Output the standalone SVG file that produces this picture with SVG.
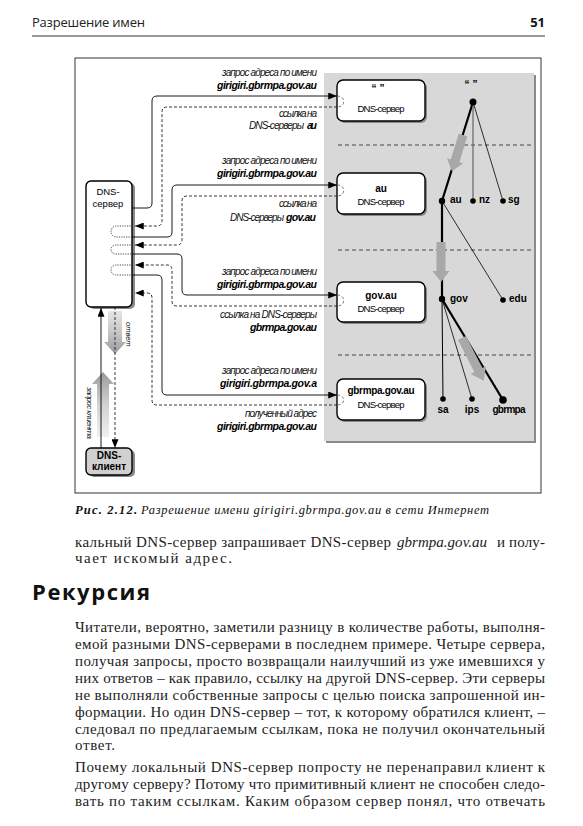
<svg xmlns="http://www.w3.org/2000/svg" width="583" height="826" viewBox="0 0 583 826">
<defs>
<style>
.lbl{font-family:"Liberation Sans",Arial,sans-serif;font-style:italic;font-size:10px;fill:#111}
.lblb{font-family:"Liberation Sans",Arial,sans-serif;font-style:italic;font-weight:bold;font-size:10.5px;fill:#000}
.box{fill:#fff;stroke:#000;stroke-width:1.4}
.shd{fill:#8a8a8a}
.bt{font-family:"Liberation Sans",Arial,sans-serif;font-size:9.5px;text-anchor:middle;fill:#000}
.btb{font-family:"Liberation Sans",Arial,sans-serif;font-size:10px;font-weight:bold;text-anchor:middle;fill:#000}
.tl{font-family:"Liberation Sans",Arial,sans-serif;font-size:10px;font-weight:bold;fill:#000}
.req{fill:none;stroke:#000;stroke-width:0.9;marker-end:url(#ah)}
.rep{fill:none;stroke:#222;stroke-width:0.9;stroke-dasharray:3 2;marker-end:url(#ah)}
.loop{fill:none;stroke:#333;stroke-width:0.9;stroke-dasharray:1.2 1.2}
.bl{fill:none;stroke:#666;stroke-width:0.9;stroke-dasharray:3 2}
.sep{stroke:#222;stroke-width:0.8;stroke-dasharray:4 3}
.thick{stroke:#000;stroke-width:2.2}
.thin{stroke:#000;stroke-width:0.8}
.garr{fill:#a8a8a8}
.body{font-family:"Liberation Serif","Times New Roman",serif;font-size:15px;fill:#222}
.cap{font-family:"Liberation Serif","Times New Roman",serif;font-size:12.5px;font-style:italic;fill:#111}
</style>
<marker id="ah" viewBox="0 0 10 8" refX="10" refY="4" markerWidth="9" markerHeight="7" markerUnits="userSpaceOnUse" orient="auto"><path d="M0,0 L10,4 L0,8 z" fill="#000"/></marker>
<linearGradient id="gUp" x1="0" y1="1" x2="0" y2="0">
<stop offset="0" stop-color="#f0f0f0"/><stop offset="0.5" stop-color="#d2d2d2"/><stop offset="1" stop-color="#999"/>
</linearGradient>
<linearGradient id="gDown" x1="0" y1="0" x2="0" y2="1">
<stop offset="0" stop-color="#e6e6e6"/><stop offset="0.5" stop-color="#c6c6c6"/><stop offset="1" stop-color="#999"/>
</linearGradient>
</defs>

<!-- page header -->
<g id="header">
<text x="32" y="27" font-family="'Open Sans',sans-serif" font-size="13" fill="#222" textLength="113">Разрешение имен</text>
<text x="545" y="27" font-family="'Open Sans',sans-serif" font-size="13" font-weight="bold" fill="#111" text-anchor="end">51</text>
<line x1="32" y1="36" x2="545" y2="36" stroke="#333" stroke-width="1"/>
</g>

<!-- figure frame -->
<rect x="75" y="58" width="466" height="435" fill="#fff" stroke="#333" stroke-width="1"/>

<!-- gray panel -->
<g id="panel">
<rect x="326" y="75" width="210" height="368" class="shd"/>
<rect x="324" y="73" width="210" height="368" fill="#d8d8d8"/>
<line x1="338" y1="145" x2="533" y2="145" class="sep"/>
<line x1="338" y1="250" x2="533" y2="250" class="sep"/>
<line x1="338" y1="355" x2="533" y2="355" class="sep"/>
</g>

<!-- tree -->
<g id="tree">
<line x1="473" y1="102" x2="442" y2="201" class="thick"/>
<line x1="473" y1="102" x2="473" y2="201" stroke="#666" stroke-width="1.2"/>
<line x1="473" y1="102" x2="503" y2="201" class="thin"/>
<line x1="442" y1="201" x2="442" y2="299" class="thick"/>
<line x1="442" y1="201" x2="503" y2="300" class="thin"/>
<line x1="442" y1="299" x2="443" y2="399" stroke="#000" stroke-width="1"/>
<line x1="442" y1="299" x2="472" y2="399" class="thin"/>
<line x1="442" y1="299" x2="503" y2="400" class="thick"/>
<polygon class="garr" transform="translate(463,135) rotate(17)" points="-4.5,0 4.5,0 4.5,27 8.5,27 0,38 -8.5,27 -4.5,27"/>
<polygon class="garr" transform="translate(441,242)" points="-4.5,0 4.5,0 4.5,29 8.5,29 0,40 -8.5,29 -4.5,29"/>
<polygon class="garr" transform="translate(462,338) rotate(-27)" points="-4.5,0 4.5,0 4.5,36 8.5,36 0,48 -8.5,36 -4.5,36"/>
<circle cx="473" cy="102" r="3.5"/>
<circle cx="442" cy="201" r="3.2"/>
<circle cx="473" cy="201" r="2.8"/>
<circle cx="503" cy="201" r="2.8"/>
<circle cx="442" cy="299" r="3.2"/>
<circle cx="503" cy="300" r="2.8"/>
<circle cx="443" cy="399" r="2.8"/>
<circle cx="472" cy="399" r="2.8"/>
<circle cx="503" cy="400" r="3.8"/>
<text x="471" y="88" class="btb" font-size="8">“ ”</text>
<text x="450" y="203" class="tl">au</text>
<text x="479" y="203" class="tl">nz</text>
<text x="508" y="203" class="tl">sg</text>
<text x="450" y="302" class="tl">gov</text>
<text x="509" y="302" class="tl">edu</text>
<text x="443" y="413" class="btb">sa</text>
<text x="472" y="413" class="btb">ips</text>
<text x="509" y="413" class="btb" textLength="33">gbrmpa</text>
</g>

<!-- remote servers -->
<g id="root-server">
<rect x="339" y="82" width="88" height="41" rx="6" class="shd"/>
<rect x="337" y="80" width="88" height="41" rx="6" class="box"/>
<text x="378" y="92" class="btb" font-size="8">“ ”</text>
<text x="381" y="112" class="bt" textLength="47">DNS-сервер</text>
</g>
<g id="au-server">
<rect x="339" y="175" width="88" height="41" rx="6" class="shd"/>
<rect x="337" y="173" width="88" height="41" rx="6" class="box"/>
<text x="381" y="192" class="btb">au</text>
<text x="381" y="205" class="bt" textLength="47">DNS-сервер</text>
</g>
<g id="gov-au-server">
<rect x="339" y="284" width="88" height="40" rx="6" class="shd"/>
<rect x="337" y="282" width="88" height="40" rx="6" class="box"/>
<text x="381" y="299" class="btb">gov.au</text>
<text x="381" y="312" class="bt" textLength="47">DNS-сервер</text>
</g>
<g id="gbrmpa-server">
<rect x="339" y="381" width="88" height="41" rx="6" class="shd"/>
<rect x="337" y="379" width="88" height="41" rx="6" class="box"/>
<text x="381" y="394" class="btb" textLength="67">gbrmpa.gov.au</text>
<text x="381" y="408" class="bt" textLength="47">DNS-сервер</text>
</g>

<!-- local server and client -->
<g id="local-server">
<rect x="89" y="183" width="46" height="126" rx="5" class="shd"/>
<rect x="86" y="181" width="46" height="126" rx="5" class="box"/>
<text x="108" y="194.5" class="bt" font-size="10">DNS-</text>
<text x="108" y="206.5" class="bt" font-size="10">сервер</text>
</g>
<g id="dns-client">
<rect x="89" y="450" width="46" height="27" rx="5" class="shd"/>
<rect x="86" y="448" width="46" height="27" rx="5" fill="#d0d0d0" stroke="#000" stroke-width="1.4"/>
<text x="109" y="458.5" class="btb" font-size="10.5">DNS-</text>
<text x="109" y="470" class="btb" font-size="8.5">клиент</text>
</g>

<!-- connectors -->
<g id="connectors">
<polygon points="97,437 109,437 109,384 114,384 103,372 92,384 97,384" fill="url(#gUp)"/>
<polygon points="108,311 122,311 122,342 126,342 115,354 104,342 108,342" fill="url(#gDown)"/>
<line x1="101" y1="448" x2="101" y2="308" class="req"/>
<line x1="115" y1="307" x2="115" y2="448" class="rep" stroke-dasharray="2 1.5"/>
<text transform="translate(126,322) rotate(90)" font-family="'Liberation Sans',Arial,sans-serif" font-size="7.5" font-style="italic" fill="#111">ответ</text>
<text transform="translate(87,387) rotate(90)" font-family="'Liberation Sans',Arial,sans-serif" font-size="8" font-style="italic" fill="#111" textLength="52">запрос клиента</text>

<path class="req" d="M132,208 H147 Q152,208 152,203 V101 Q152,96 157,96 H337"/>
<path class="req" d="M132,237 H167 Q172,237 172,232 V190 Q172,185 177,185 H337"/>
<path class="req" d="M132,254 H177 Q182,254 182,259 V290 Q182,295 187,295 H337"/>
<path class="req" d="M132,275 H157 Q162,275 162,280 V390 Q162,395 167,395 H337"/>

<path class="rep" d="M337,107 H167 Q162,107 162,112 V221 Q162,226 157,226 H135"/>
<path class="rep" d="M337,196 H187 Q182,196 182,201 V240 Q182,245 177,245 H135"/>
<path class="rep" d="M337,306 H177 Q172,306 172,301 V270 Q172,265 167,265 H135"/>
<path class="rep" d="M337,405 H157 Q152,405 152,400 V298 Q152,293 147,293 H135"/>

<path class="bl" d="M337,96 C346,96 346,107 337,107"/>
<path class="bl" d="M337,185 C346,185 346,196 337,196"/>
<path class="bl" d="M337,295 C346,295 346,306 337,306"/>
<path class="bl" d="M337,395 C346,395 346,405 337,405"/>

<path class="loop" d="M133,226 H116 A5,5.5 0 0 0 116,237 H133"/>
<path class="loop" d="M133,245 H116 A5,4.5 0 0 0 116,254 H133"/>
<path class="loop" d="M133,265 H116 A5,5 0 0 0 116,275 H133"/>
</g>

<!-- connector labels -->
<g id="labels">
<text x="317" y="76" class="lbl" text-anchor="end" textLength="95">запрос адреса по имени</text>
<text x="317" y="88.5" class="lblb" text-anchor="end" textLength="100">girigiri.gbrmpa.gov.au</text>
<text x="317" y="117" class="lbl" text-anchor="end" textLength="38">ссылка на</text>
<text x="249" y="129" class="lbl" textLength="55">DNS-серверы</text>
<text x="307" y="129" class="lblb" textLength="10">au</text>

<text x="317" y="164" class="lbl" text-anchor="end" textLength="95">запрос адреса по имени</text>
<text x="317" y="176.5" class="lblb" text-anchor="end" textLength="100">girigiri.gbrmpa.gov.au</text>
<text x="317" y="207" class="lbl" text-anchor="end" textLength="38">ссылка на</text>
<text x="230" y="220.5" class="lbl" textLength="54">DNS-серверы</text>
<text x="286" y="220.5" class="lblb" textLength="30">gov.au</text>

<text x="317" y="275" class="lbl" text-anchor="end" textLength="95">запрос адреса по имени</text>
<text x="317" y="287.5" class="lblb" text-anchor="end" textLength="100">girigiri.gbrmpa.gov.au</text>
<text x="317" y="318" class="lbl" text-anchor="end" textLength="97">ссылка на DNS-серверы</text>
<text x="317" y="331" class="lblb" text-anchor="end" textLength="67">gbrmpa.gov.au</text>

<text x="317" y="374" class="lbl" text-anchor="end" textLength="95">запрос адреса по имени</text>
<text x="317" y="387" class="lblb" text-anchor="end" textLength="97">girigiri.gbrmpa.gov.a</text>
<text x="317" y="417" class="lbl" text-anchor="end" textLength="72">полученный адрес</text>
<text x="317" y="430" class="lblb" text-anchor="end" textLength="100">girigiri.gbrmpa.gov.au</text>
</g>

<!-- caption and body text -->
<g id="text">
<text x="75" y="514" class="cap" font-weight="bold" textLength="62">Рис. 2.12.</text>
<text x="141" y="514" class="cap" textLength="348">Разрешение имени girigiri.gbrmpa.gov.au в сети Интернет</text>

<text x="75" y="547" class="body" textLength="316">кальный DNS-сервер запрашивает DNS-сервер</text>
<text x="397" y="547" class="body" font-style="italic" textLength="90">gbrmpa.gov.au</text>
<text x="497" y="547" class="body" textLength="48">и полу-</text>
<text x="75" y="563" class="body" textLength="157">чает искомый адрес.</text>

<text x="32" y="600" font-family="'Open Sans',sans-serif" font-size="22" font-weight="bold" fill="#111" textLength="118">Рекурсия</text>

<text x="75" y="632" class="body" textLength="470">Читатели, вероятно, заметили разницу в количестве работы, выполня-</text>
<text x="75" y="649" class="body" textLength="470">емой разными DNS-серверами в последнем примере. Четыре сервера,</text>
<text x="75" y="666" class="body" textLength="470">получая запросы, просто возвращали наилучший из уже имевшихся у</text>
<text x="75" y="683" class="body" textLength="470">них ответов – как правило, ссылку на другой DNS-сервер. Эти серверы</text>
<text x="75" y="700" class="body" textLength="470">не выполняли собственные запросы с целью поиска запрошенной ин-</text>
<text x="75" y="717" class="body" textLength="470">формации. Но один DNS-сервер – тот, к которому обратился клиент, –</text>
<text x="75" y="734" class="body" textLength="470">следовал по предлагаемым ссылкам, пока не получил окончательный</text>
<text x="75" y="750" class="body" textLength="40">ответ.</text>

<text x="75" y="772" class="body" textLength="470">Почему локальный DNS-сервер попросту не перенаправил клиент к</text>
<text x="75" y="789" class="body" textLength="470">другому серверу? Потому что примитивный клиент не способен следо-</text>
<text x="75" y="806" class="body" textLength="470">вать по таким ссылкам. Каким образом сервер понял, что отвечать</text>
</g>
</svg>
